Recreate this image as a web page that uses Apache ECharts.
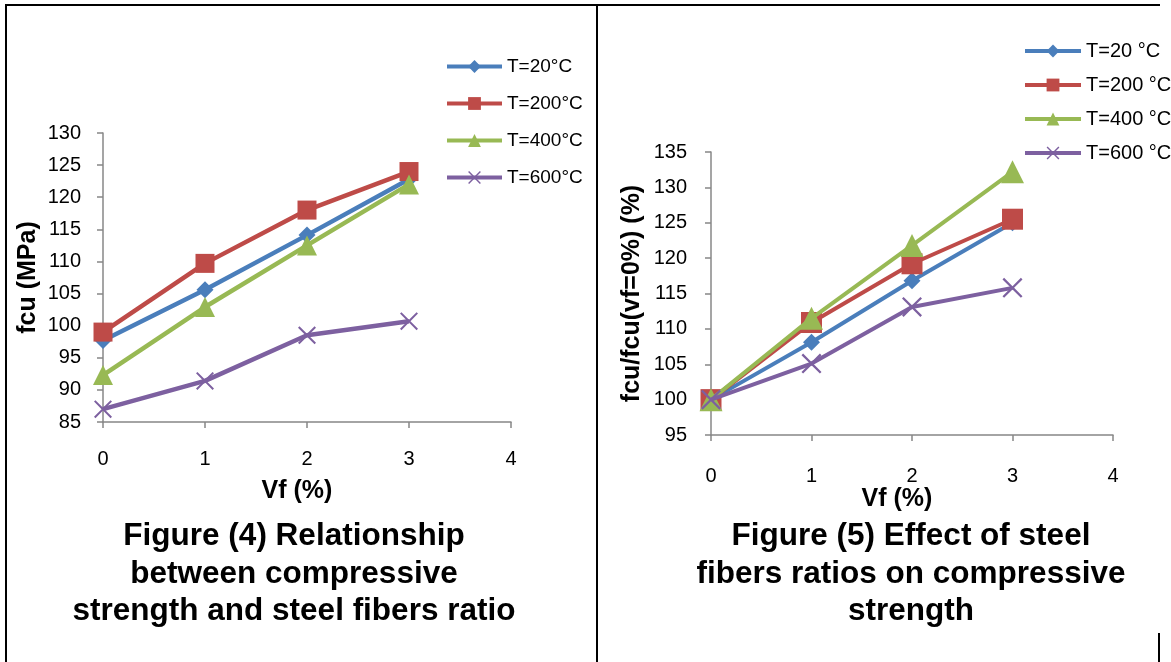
<!DOCTYPE html>
<html>
<head>
<meta charset="utf-8">
<script src="https://cdn.jsdelivr.net/npm/echarts@6/dist/echarts.min.js"></script>
<style>
html,body{margin:0;padding:0;background:#fff;}
#c{width:1171px;height:662px;}
</style>
</head>
<body>
<div id="c"></div>
<script>
// ---- Data ----
const vf = [0, 1, 2, 3];
const xTicks = [0, 1, 2, 3, 4];

const fig4Names = ['T=20°C', 'T=200°C', 'T=400°C', 'T=600°C'];
const fig4_T20  = [97.7, 105.6, 114.1, 122.8];
const fig4_T200 = [99.0, 109.7, 118.0, 124.0];
const fig4_T400 = [92.3, 102.9, 112.5, 122.0];
const fig4_T600 = [87.0, 91.4, 98.5, 100.7];

const fig5Names = ['T=20 °C', 'T=200 °C', 'T=400 °C', 'T=600 °C'];
const fig5_T20  = [100, 108.1, 116.8, 125.0];
const fig5_T200 = [100, 110.9, 119.2, 125.5];
const fig5_T400 = [100, 111.5, 121.8, 132.2];
const fig5_T600 = [100, 105.1, 113.1, 115.8];

const fig4Title = 'Figure (4) Relationship\nbetween compressive\nstrength and steel fibers ratio';
const fig5Title = 'Figure (5) Effect of steel\nfibers ratios on compressive\nstrength';

// ---- Styles ----
const FONT = '"Liberation Sans", Arial, sans-serif';
const colors = ['#4A7EBB', '#BE4B48', '#98B954', '#7D60A0'];
const CROSS = 'path://M0,0.8 L0.8,0 L5,4.2 L9.2,0 L10,0.8 L5.8,5 L10,9.2 L9.2,10 L5,5.8 L0.8,10 L0,9.2 L4.2,5 Z';
const symbols = ['diamond', 'rect', 'triangle', CROSS];
const sizes4 = [17, 19, 20, 18];
const sizes5 = [17, 21, 23, 20];

function pairs(ys) { return vf.map((x, i) => [x, ys[i]]); }

function mkSeries(names, datas, sizes, xi, lw) {
  return names.map((n, i) => ({
    name: n, type: 'line', xAxisIndex: xi, yAxisIndex: xi,
    data: pairs(datas[i]),
    symbol: symbols[i], symbolSize: sizes[i],
    lineStyle: { color: colors[i], width: lw },
    itemStyle: { color: colors[i] },
    emphasis: { disabled: true },
    animation: false, z: 2 + i
  }));
}

const axisLineStyle = { lineStyle: { color: '#878787', width: 1.5 } };
function xAx(gi, margin, gap, padRight) {
  return {
    type: 'value', gridIndex: gi, min: xTicks[0], max: xTicks[xTicks.length - 1], interval: 1,
    axisLine: axisLineStyle, axisTick: { show: true, length: 6, lineStyle: { color: '#878787', width: 1.5 } },
    splitLine: { show: false },
    axisLabel: { margin: margin, fontSize: 20, color: '#000', fontFamily: FONT },
    name: 'Vf (%)', nameLocation: 'middle', nameGap: gap,
    nameTextStyle: { fontSize: 25, fontWeight: 'bold', color: '#000', fontFamily: FONT, padding: [0, padRight, 0, 0] }
  };
}
function yAx(gi, min, max, name, margin, gap) {
  return {
    type: 'value', gridIndex: gi, min: min, max: max, interval: 5,
    axisLine: { show: true, lineStyle: { color: '#878787', width: 1.5 } },
    axisTick: { show: true, length: 6, lineStyle: { color: '#878787', width: 1.5 } },
    splitLine: { show: false },
    axisLabel: { margin: margin, fontSize: 20, color: '#000', fontFamily: FONT },
    name: name, nameLocation: 'middle', nameGap: gap, nameRotate: 90,
    nameTextStyle: { fontSize: 25, fontWeight: 'bold', color: '#000', fontFamily: FONT }
  };
}

function titleText(text, x, y) {
  return {
    type: 'text', x: x, y: y, silent: true,
    style: {
      text: text, fill: '#000', font: 'bold 31.5px ' + FONT,
      textAlign: 'center', align: 'center', textVerticalAlign: 'top', verticalAlign: 'top', lineHeight: 37.5
    }
  };
}
function vline(x, y1, y2) {
  return { type: 'line', silent: true, shape: { x1: x, y1: y1, x2: x, y2: y2 }, style: { stroke: '#000', lineWidth: 2 } };
}
function hline(x1, x2, y) {
  return { type: 'line', silent: true, shape: { x1: x1, y1: y, x2: x2, y2: y }, style: { stroke: '#000', lineWidth: 2 } };
}

const chart = echarts.init(document.getElementById('c'), null, { renderer: 'canvas' });
chart.setOption({
  animation: false,
  backgroundColor: '#fff',
  grid: [
    { left: 103, top: 133, width: 408, height: 289 },
    { left: 711, top: 152, width: 402, height: 283 }
  ],
  xAxis: [xAx(0, 27, 57, 20), xAx(1, 31, 47, 30)],
  yAxis: [
    yAx(0, 85, 130, 'fcu (MPa)', 22, 62),
    yAx(1, 95, 135, 'fcu/fcu(vf=0%) (%)', 24, 66)
  ],
  legend: [
    {
      data: fig4Names, orient: 'vertical', left: 440, top: 52,
      itemWidth: 55, itemHeight: 16, itemGap: 18,
      lineStyle: { width: 4 },
      textStyle: { fontSize: 19, color: '#000', fontFamily: FONT }
    },
    {
      data: fig5Names, orient: 'vertical', left: 1018, top: 36,
      itemWidth: 56, itemHeight: 16, itemGap: 14,
      lineStyle: { width: 4 },
      textStyle: { fontSize: 20, color: '#000', fontFamily: FONT }
    }
  ],
  series: [].concat(
    mkSeries(fig4Names, [fig4_T20, fig4_T200, fig4_T400, fig4_T600], sizes4, 0, 4.5),
    mkSeries(fig5Names, [fig5_T20, fig5_T200, fig5_T400, fig5_T600], sizes5, 1, 4)
  ),
  graphic: [
    hline(5, 1160, 5),
    vline(6, 4, 662),
    vline(597, 4, 662),
    vline(1159, 633, 662),
    titleText(fig4Title, 294, 518),
    titleText(fig5Title, 911, 518)
  ]
});
</script>
</body>
</html>
